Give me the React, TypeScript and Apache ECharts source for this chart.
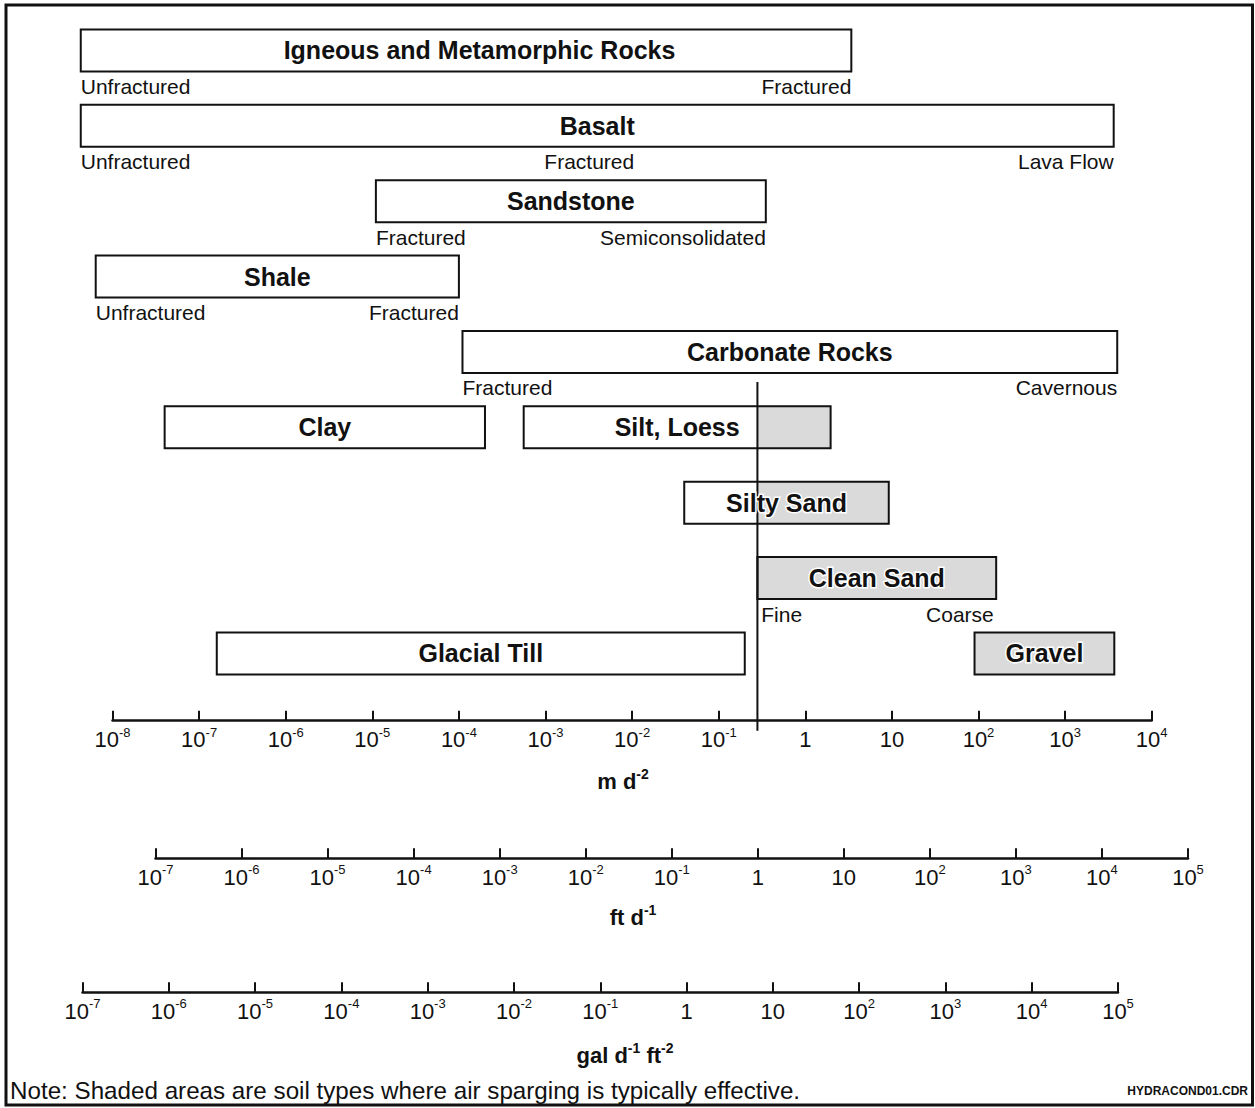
import React, { useEffect, useRef } from "react";
import * as echarts from "echarts";

// ---------- data (hydraulic conductivity, m d^-1) ----------
const materials = [
  "Igneous and Metamorphic Rocks",
  "Basalt",
  "Sandstone",
  "Shale",
  "Carbonate Rocks",
  "Clay",
  "Silt, Loess",
  "Silty Sand",
  "Clean Sand",
  "Glacial Till",
  "Gravel",
];
const materialRows = [0, 1, 2, 3, 4, 5, 5, 6, 7, 8, 8];
const kLow = [4.3e-9, 4.3e-9, 1.1e-5, 6.4e-9, 1.1e-4, 4.0e-8, 5.6e-4, 0.04, 0.28, 1.6e-7, 90];
const kHigh = [3.4, 3640, 0.35, 1.0e-4, 4000, 2.0e-4, 1.96, 9.2, 160, 0.2, 3700];
const spargeEffective = [false, false, false, false, false, false, true, true, true, false, true];
const titleAt: (number | null)[] = [1.73e-4, null, null, null, null, null, null, null, null, null, null];
const SPARGE_LIMIT = 0.28;

const qualifierText = [
  "Unfractured", "Fractured",
  "Unfractured", "Fractured", "Lava Flow",
  "Fractured", "Semiconsolidated",
  "Unfractured", "Fractured",
  "Fractured", "Cavernous",
  "Fine", "Coarse",
];
const qualifierK = [4.3e-9, 3.4, 4.3e-9, 3.2e-3, 3640, 1.1e-5, 0.35, 6.4e-9, 1.0e-4, 1.1e-4, 4000, 0.31, 150];
const qualifierRow = [0, 0, 1, 1, 1, 2, 2, 3, 3, 4, 4, 7, 7];
const qualifierAlign = ["left", "right", "left", "center", "right", "left", "right", "left", "right", "left", "right", "left", "right"];

// tick exponents of the three scales
const mdExponents = [-8, -7, -6, -5, -4, -3, -2, -1, 0, 1, 2, 3, 4];
const ftExponents = [-7, -6, -5, -4, -3, -2, -1, 0, 1, 2, 3, 4, 5];
const galExponents = [-7, -6, -5, -4, -3, -2, -1, 0, 1, 2, 3, 4, 5];

// ---------- styling ----------
const SANS = "'Liberation Sans', Arial, Helvetica, sans-serif";
const INK = "#111111";
const SHADE = "#dadada";
const HALF = 0.2786; // half bar height in row units
const RULE_TOP = 4.4;
const RULE_BOTTOM = 9.025;
const QUAL_DY = 15;

function expLabel(e: number): string {
  if (e === 0) return "{b|1}";
  if (e === 1) return "{b|10}";
  return `{b|10}{s|${e}}`;
}

function visibleAxis(gridIndex: number, exps: number[]) {
  return {
    gridIndex,
    type: "value",
    min: exps[0],
    max: exps[exps.length - 1],
    interval: 1,
    position: "bottom",
    axisLine: { show: true, onZero: false, lineStyle: { color: INK, width: 2.5 } },
    axisTick: { show: true, inside: true, length: 10, lineStyle: { color: INK, width: 2 } },
    axisLabel: {
      show: true,
      margin: 5,
      formatter: (v: number) => expLabel(Math.round(v)),
      rich: {
        b: { fontFamily: SANS, fontSize: 22, color: INK, lineHeight: 28 },
        s: { fontFamily: SANS, fontSize: 13, color: INK, lineHeight: 10, verticalAlign: "top" },
      },
    },
    splitLine: { show: false },
  };
}

function richName(text: string, x: number, y: number) {
  return {
    type: "text",
    x,
    y,
    silent: true,
    style: {
      text,
      align: "center",
      verticalAlign: "middle",
      fill: INK,
      font: `bold 22px ${SANS}`,
      rich: {
        n: { fontFamily: SANS, fontWeight: "bold", fontSize: 22, lineHeight: 28, fill: INK },
        s: { fontFamily: SANS, fontWeight: "bold", fontSize: 14, lineHeight: 12, verticalAlign: "top", fill: INK },
      },
    },
  };
}

export default function App() {
  const ref = useRef<HTMLDivElement>(null);

  useEffect(() => {
    if (!ref.current) return;
    const chart = echarts.init(ref.current, undefined, { renderer: "svg" });

    const barData = materials.map((name, i) => ({
      name,
      value: [kLow[i], kHigh[i], materialRows[i], spargeEffective[i] ? 1 : 0],
    }));

    const titleData = materials.map((name, i) => ({
      name,
      value: [titleAt[i] ?? Math.sqrt(kLow[i] * kHigh[i]), materialRows[i]],
      label: spargeEffective[i]
        ? { textBorderColor: "#ffffff", textBorderWidth: 3 }
        : { textBorderWidth: 0 },
    }));

    const qualifierData = qualifierText.map((t, i) => ({
      name: t,
      value: [qualifierK[i], qualifierRow[i] + HALF],
      label: { align: qualifierAlign[i] },
    }));

    const option: any = {
      animation: false,
      backgroundColor: "#ffffff",
      grid: [
        { left: 25.9, width: 1212.4, top: 50.4, height: 603.04 },
        { left: 112.5, width: 1039.2, top: 700.7, height: 20 },
        { left: 155.5, width: 1032.5, top: 838.3, height: 20 },
        { left: 82.5, width: 1035.5, top: 972.3, height: 20 },
      ],
      xAxis: [
        { gridIndex: 0, type: "log", logBase: 10, min: 1e-9, max: 1e5, show: false },
        visibleAxis(1, mdExponents),
        visibleAxis(2, ftExponents),
        visibleAxis(3, galExponents),
      ],
      yAxis: [
        { gridIndex: 0, type: "value", min: 0, max: 8, inverse: true, show: false },
        { gridIndex: 1, type: "value", min: 0, max: 1, show: false },
        { gridIndex: 2, type: "value", min: 0, max: 1, show: false },
        { gridIndex: 3, type: "value", min: 0, max: 1, show: false },
      ],
      series: [
        {
          type: "custom",
          xAxisIndex: 0,
          yAxisIndex: 0,
          silent: true,
          clip: false,
          data: barData,
          renderItem: (params: any, api: any) => {
            const lo = api.value(0);
            const hi = api.value(1);
            const row = api.value(2);
            const sp = api.value(3);
            const a = api.coord([lo, row - HALF]);
            const b = api.coord([hi, row + HALF]);
            const x = Math.min(a[0], b[0]);
            const y = Math.min(a[1], b[1]);
            const w = Math.abs(b[0] - a[0]);
            const h = Math.abs(b[1] - a[1]);
            const children: any[] = [
              { type: "rect", shape: { x, y, width: w, height: h }, style: { fill: "#ffffff" } },
            ];
            if (sp) {
              const s = api.coord([Math.max(lo, SPARGE_LIMIT), row])[0];
              children.push({
                type: "rect",
                shape: { x: s, y, width: x + w - s, height: h },
                style: { fill: SHADE },
              });
            }
            children.push({
              type: "rect",
              shape: { x, y, width: w, height: h },
              style: { fill: "none", stroke: INK, lineWidth: 2 },
            });
            return { type: "group", children };
          },
        },
        {
          type: "custom",
          xAxisIndex: 0,
          yAxisIndex: 0,
          silent: true,
          clip: false,
          z: 3,
          data: [[SPARGE_LIMIT]],
          renderItem: (params: any, api: any) => {
            const v = api.value(0);
            const p0 = api.coord([v, RULE_TOP]);
            const p1 = api.coord([v, RULE_BOTTOM]);
            return {
              type: "line",
              shape: { x1: p0[0], y1: p0[1], x2: p1[0], y2: p1[1] },
              style: { stroke: INK, lineWidth: 2 },
            };
          },
        },
        {
          type: "scatter",
          xAxisIndex: 0,
          yAxisIndex: 0,
          silent: true,
          clip: false,
          z: 4,
          symbolSize: 0,
          itemStyle: { opacity: 1 },
          data: titleData,
          label: {
            show: true,
            position: [0, 0],
            align: "center",
            verticalAlign: "middle",
            formatter: "{b}",
            fontFamily: SANS,
            fontWeight: "bold",
            fontSize: 25,
            color: INK,
            opacity: 1,
          },
        },
        {
          type: "scatter",
          xAxisIndex: 0,
          yAxisIndex: 0,
          silent: true,
          clip: false,
          z: 4,
          symbolSize: 0,
          itemStyle: { opacity: 1 },
          data: qualifierData,
          label: {
            show: true,
            position: [0, 0],
            offset: [0, QUAL_DY],
            verticalAlign: "middle",
            formatter: "{b}",
            fontFamily: SANS,
            fontSize: 21,
            color: INK,
            opacity: 1,
            textBorderWidth: 0,
          },
        },
      ],
      graphic: [
        {
          type: "rect",
          silent: true,
          z: 100,
          shape: { x: 6, y: 5, width: 1246.5, height: 1100 },
          style: { fill: "none", stroke: INK, lineWidth: 3 },
        },
        richName("{n|m d}{s|-2}", 623, 781),
        richName("{n|ft d}{s|-1}", 633, 917),
        richName("{n|gal d}{s|-1}{n| ft}{s|-2}", 625, 1055),
        {
          type: "text",
          x: 10,
          y: 1090,
          silent: true,
          style: {
            text: "Note: Shaded areas are soil types where air sparging is typically effective.",
            align: "left",
            verticalAlign: "middle",
            fill: INK,
            font: `24.2px ${SANS}`,
          },
        },
        {
          type: "text",
          x: 1248,
          y: 1091,
          silent: true,
          style: {
            text: "HYDRACOND01.CDR",
            align: "right",
            verticalAlign: "middle",
            fill: INK,
            font: `bold 12px ${SANS}`,
          },
        },
      ],
    };

    chart.setOption(option);
    return () => chart.dispose();
  }, []);

  return (
    <div
      ref={ref}
      style={{ position: "absolute", left: 0, top: 0, width: 1255, height: 1108, background: "#fff" }}
    />
  );
}
